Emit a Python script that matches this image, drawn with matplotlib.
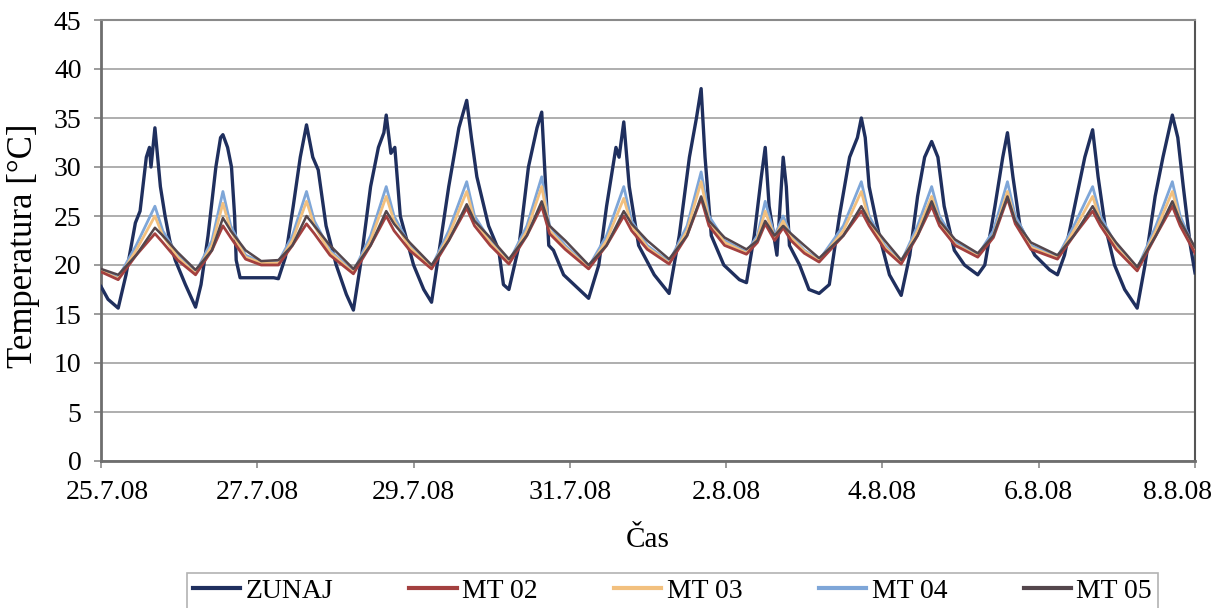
import matplotlib
matplotlib.use("Agg")
import matplotlib.pyplot as plt
import matplotlib.transforms as mtransforms
from matplotlib.lines import Line2D

# ---------------- data (days since 25.7.08 00:00) ----------------
zunaj_t = [0.00,0.09,0.22,0.32,0.44,0.50,0.58,0.62,0.64,0.69,
           0.76,0.82,0.88,0.95,1.08,1.21,1.28,1.37,1.47,1.53,
           1.56,1.62,1.67,1.71,1.73,1.78,2.01,2.21,2.27,2.36,
           2.46,2.55,2.63,2.71,2.78,2.88,3.01,3.14,3.23,3.32,
           3.45,3.55,3.62,3.65,3.71,3.76,3.83,4.00,4.13,4.23,
           4.32,4.45,4.58,4.68,4.74,4.81,4.96,5.09,5.15,5.22,
           5.35,5.47,5.58,5.64,5.69,5.73,5.79,5.92,6.12,6.24,
           6.37,6.47,6.53,6.59,6.63,6.69,6.76,6.88,7.08,7.27,
           7.40,7.53,7.62,7.68,7.73,7.81,7.97,8.17,8.26,8.36,
           8.45,8.50,8.55,8.63,8.65,8.69,8.73,8.77,8.81,8.94,
           9.06,9.19,9.32,9.45,9.58,9.68,9.73,9.78,9.83,9.96,
           10.09,10.24,10.35,10.45,10.54,10.63,10.71,10.79,10.92,11.05,
           11.22,11.31,11.44,11.54,11.60,11.67,11.76,11.95,12.14,12.24,
           12.33,12.46,12.59,12.69,12.76,12.85,12.97,13.10,13.26,13.36,
           13.49,13.59,13.71,13.78,13.85,13.94,14.00]
zunaj_v = [17.8,16.5,15.6,19,24.3,25.5,31,32,30,34,
           28,25,22.5,20.5,18,15.7,18,23,30,33,
           33.3,32,30,25,20.5,18.7,18.7,18.7,18.6,20.8,
           26,31,34.3,31,29.7,24,20,17,15.4,20,
           28,32,33.5,35.3,31.4,32,25,20,17.5,16.2,
           21,28,34,36.8,33,29,24,21.5,18,17.5,
           22,30,34,35.6,28,22,21.5,19,17.5,16.6,
           20,26,29,32,31,34.6,28,22,19,17.1,
           23,31,35,38,31,23,20,18.5,18.2,23,
           29,32,26,22,21,26,31,28,22,20,
           17.5,17.1,18,25,31,33,35,33,28,23,
           19,16.9,21,27,31,32.6,31,26,21.5,20,
           19,20,26,31,33.5,29,24,21,19.5,19,
           21,26,31,33.8,29,24,20,17.5,15.6,20,
           27,31,35.3,33,28,22,19.2]

indoor_t = [0.00,0.22,0.45,0.69,0.79,0.98,
            1.21,1.42,1.56,1.66,1.85,
            2.05,2.27,2.45,2.63,2.73,2.93,
            3.23,3.45,3.65,3.75,3.95,
            4.23,4.45,4.68,4.78,4.98,
            5.22,5.45,5.64,5.74,5.94,
            6.24,6.47,6.69,6.79,6.99,
            7.27,7.50,7.68,7.78,7.98,
            8.26,8.40,8.50,8.62,8.73,8.83,9.00,
            9.19,9.50,9.73,9.83,10.03,
            10.24,10.45,10.63,10.73,10.93,
            11.22,11.42,11.60,11.70,11.90,
            12.24,12.45,12.69,12.79,12.99,
            13.26,13.50,13.71,13.81,14.00]

mt02_v = [19.3,18.5,21,23.2,22.3,20.5,
          19,21.5,24,22.8,20.6,
          20,20,22,24.2,23.2,21,
          19.1,22,25,23.5,21.5,
          19.6,22.5,25.8,24,22,
          20.1,23,26,23.2,21.6,
          19.6,22,25,23.5,21.6,
          20.1,23,26.8,24,22,
          21.1,22.3,24.2,22.5,23.8,22.5,21.2,
          20.3,23,25.5,24,21.6,
          20.1,23,26,24,22,
          20.8,22.8,26.8,24.2,21.6,
          20.6,23,25.5,24,21.6,
          19.4,23,26,24,21.2]
mt03_v = [19.4,18.6,21.5,25,23,20.8,
          19.1,22,26.3,23.5,20.8,
          20.2,20.2,22.5,26.5,24,21.3,
          19.2,22.5,27,24.5,21.8,
          19.7,23,27.5,24.5,22.3,
          20.2,23.5,28,23.5,21.8,
          19.7,22.5,26.8,24,21.8,
          20.2,23.5,28.5,24.5,22.3,
          21.2,22.7,25.5,22.8,24.5,22.8,21.4,
          20.4,23.5,27.5,24.5,21.8,
          20.2,23.5,27,24.5,22.1,
          20.9,23,27.5,24.5,21.8,
          20.7,23.5,27,24.5,21.8,
          19.5,23.5,27.5,24.5,21.4]
mt04_v = [19.5,18.7,22,26,23.5,21,
          19.2,22.5,27.5,24,21,
          20.3,20.3,23,27.5,24.5,21.5,
          19.3,23,28,25,22,
          19.8,23.5,28.5,25,22.5,
          20.3,24,29,24,22,
          19.8,23,28,24.5,22,
          20.3,24,29.5,25,22.5,
          21.3,23,26.5,23,25,23,21.5,
          20.5,24,28.5,25,22,
          20.3,24,28,25,22.3,
          21,23.5,28.5,25,22,
          20.8,24,28,25,22,
          19.6,24,28.5,25,21.5]
mt05_v = [19.6,19,21,23.8,23,21.3,
          19.5,21.5,24.8,23.5,21.5,
          20.4,20.5,22,25,24,22,
          19.6,22,25.5,24.2,22.3,
          20,22.5,26.2,24.5,22.8,
          20.6,23,26.5,24,22.5,
          20,22,25.5,24.2,22.5,
          20.6,23,27,24.5,22.8,
          21.6,22.5,24.5,23,24,23.2,22,
          20.7,23,26,24.5,22.5,
          20.5,23,26.5,24.5,22.6,
          21.2,23,27,24.5,22.3,
          21,23,26,24.5,22.3,
          19.8,23,26.5,24.5,21.8]

series_names = ["ZUNAJ", "MT 02", "MT 03", "MT 04", "MT 05"]
series_colors = ["#1f2f5e", "#a3403f", "#f2c07e", "#7ea6d8", "#54464c"]

x_tick_pos = [0, 2, 4, 6, 8, 10, 12, 14]
x_tick_labels = ["25.7.08", "27.7.08", "29.7.08", "31.7.08",
                 "2.8.08", "4.8.08", "6.8.08", "8.8.08"]
y_ticks = [0, 5, 10, 15, 20, 25, 30, 35, 40, 45]

# ---------------- figure ----------------
W, H = 1226, 608
fig = plt.figure(figsize=(W / 100, H / 100), dpi=100)
serif = "Liberation Serif"
ax = fig.add_axes([101 / W, 1 - 461 / H, 1094 / W, 441 / H])

ax.set_xlim(0, 14)
ax.set_ylim(0, 45)
ax.set_yticks(y_ticks)
ax.set_xticks(x_tick_pos)
ax.set_xticklabels(x_tick_labels)
ax.grid(axis="y", color="#a8a8a8", lw=1.3)
ax.set_axisbelow(True)

for s in ("left", "bottom"):
    ax.spines[s].set_color("#6e6e6e")
    ax.spines[s].set_linewidth(2)
ax.spines["right"].set_color("#555555")
ax.spines["right"].set_linewidth(1.5)
ax.spines["top"].set_color("#8a8a8a")
ax.spines["top"].set_linewidth(1.5)

ax.tick_params(axis="both", direction="out", length=5, width=1.2,
               color="#8a8a8a", labelsize=20, pad=9)
for lab in ax.get_xticklabels() + ax.get_yticklabels():
    lab.set_fontfamily(serif)

# nudge first and last x labels like the reference
lbls = ax.get_xticklabels()
lbls[0].set_transform(lbls[0].get_transform() +
                      mtransforms.ScaledTranslation(0.06, 0, fig.dpi_scale_trans))
lbls[-1].set_transform(lbls[-1].get_transform() +
                       mtransforms.ScaledTranslation(-0.18, 0, fig.dpi_scale_trans))

# lines
ax.plot(zunaj_t, zunaj_v, color=series_colors[0], lw=2.4, zorder=3)
ax.plot(indoor_t, mt04_v, color=series_colors[3], lw=2.0, zorder=4)
ax.plot(indoor_t, mt03_v, color=series_colors[2], lw=2.0, zorder=5)
ax.plot(indoor_t, mt02_v, color=series_colors[1], lw=2.0, zorder=6)
ax.plot(indoor_t, mt05_v, color=series_colors[4], lw=1.8, zorder=7)

# axis labels
ax.set_ylabel("Temperatura [°C]", fontsize=25, fontfamily=serif)
ax.yaxis.label.set_va("center")
ax.yaxis.set_label_coords((23 - 101) / 1094, (461 - 246) / 441)
ax.set_xlabel("Čas", fontsize=21, fontfamily=serif)
ax.xaxis.label.set_va("center")
ax.xaxis.set_label_coords(0.5, (461 - 540) / 441)

# legend
handles = [Line2D([], [], color=c, lw=3) for c in series_colors]
leg = fig.legend(handles, series_names, loc="upper left",
                 bbox_to_anchor=(187 / W, 1 - 573 / H), ncol=5,
                 frameon=True, fancybox=False, edgecolor="#a0a0a0",
                 prop={"family": serif, "size": 20},
                 handlelength=1.7, handletextpad=0.2, columnspacing=2.75,
                 borderpad=0.2, borderaxespad=0)
leg.get_frame().set_linewidth(1.2)

fig.savefig("out.png", dpi=100)
